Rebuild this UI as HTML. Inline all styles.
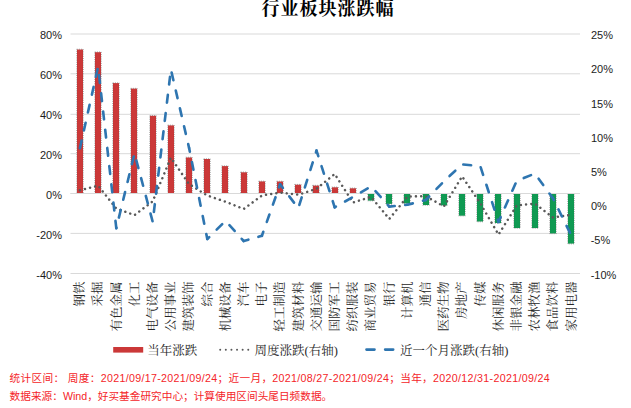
<!DOCTYPE html>
<html lang="zh"><head><meta charset="utf-8"><title>行业板块涨跌幅</title>
<style>
html,body{margin:0;padding:0;background:#fff;font-family:"Liberation Sans",sans-serif;}
svg{display:block;}
</style></head><body>
<svg width="631" height="408" viewBox="0 0 631 408">
<rect width="631" height="408" fill="#fff"/>
<line x1="70.5" y1="34.0" x2="580.0" y2="34.0" stroke="#d9d9d9" stroke-width="1"/>
<line x1="70.5" y1="73.8" x2="580.0" y2="73.8" stroke="#d9d9d9" stroke-width="1"/>
<line x1="70.5" y1="114.3" x2="580.0" y2="114.3" stroke="#d9d9d9" stroke-width="1"/>
<line x1="70.5" y1="153.7" x2="580.0" y2="153.7" stroke="#d9d9d9" stroke-width="1"/>
<line x1="70.5" y1="193.5" x2="580.0" y2="193.5" stroke="#d9d9d9" stroke-width="1"/>
<line x1="70.5" y1="233.4" x2="580.0" y2="233.4" stroke="#d9d9d9" stroke-width="1"/>
<line x1="70.5" y1="273.5" x2="580.0" y2="273.5" stroke="#d9d9d9" stroke-width="1"/>
<rect x="77.00" y="49.50" width="6.00" height="144.00" fill="#cb3838"/><rect x="95.00" y="52.20" width="6.00" height="141.30" fill="#cb3838"/><rect x="113.00" y="83.10" width="6.00" height="110.40" fill="#cb3838"/><rect x="131.00" y="88.60" width="6.00" height="104.90" fill="#cb3838"/><rect x="150.00" y="115.80" width="6.00" height="77.70" fill="#cb3838"/><rect x="168.00" y="125.40" width="6.00" height="68.10" fill="#cb3838"/><rect x="186.00" y="157.50" width="6.00" height="36.00" fill="#cb3838"/><rect x="204.00" y="159.00" width="6.00" height="34.50" fill="#cb3838"/><rect x="222.00" y="166.10" width="6.00" height="27.40" fill="#cb3838"/><rect x="241.00" y="172.30" width="6.00" height="21.20" fill="#cb3838"/><rect x="259.00" y="181.40" width="6.00" height="12.10" fill="#cb3838"/><rect x="277.00" y="181.50" width="6.00" height="12.00" fill="#cb3838"/><rect x="295.00" y="184.70" width="6.00" height="8.80" fill="#cb3838"/><rect x="313.00" y="185.60" width="6.00" height="7.90" fill="#cb3838"/><rect x="332.00" y="187.30" width="6.00" height="6.20" fill="#cb3838"/><rect x="350.00" y="188.30" width="6.00" height="5.20" fill="#cb3838"/><rect x="368.00" y="193.50" width="6.00" height="7.10" fill="#0f9a52"/><rect x="386.00" y="193.50" width="6.00" height="10.40" fill="#0f9a52"/><rect x="404.00" y="193.50" width="6.00" height="9.90" fill="#0f9a52"/><rect x="423.00" y="193.50" width="6.00" height="11.50" fill="#0f9a52"/><rect x="441.00" y="193.50" width="6.00" height="11.90" fill="#0f9a52"/><rect x="459.00" y="193.50" width="6.00" height="22.20" fill="#0f9a52"/><rect x="477.00" y="193.50" width="6.00" height="28.00" fill="#0f9a52"/><rect x="495.00" y="193.50" width="6.00" height="29.50" fill="#0f9a52"/><rect x="514.00" y="193.50" width="6.00" height="34.50" fill="#0f9a52"/><rect x="532.00" y="193.50" width="6.00" height="34.50" fill="#0f9a52"/><rect x="550.00" y="193.50" width="6.00" height="39.90" fill="#0f9a52"/><rect x="568.00" y="193.50" width="6.00" height="50.10" fill="#0f9a52"/>
<g fill="none" stroke="#4a4a4a" stroke-opacity="0.7" stroke-width="0.7" stroke-dasharray="1 1.2"><rect x="76.70" y="49.20" width="6.60" height="144.30"/><rect x="94.70" y="51.90" width="6.60" height="141.60"/><rect x="112.70" y="82.80" width="6.60" height="110.70"/><rect x="130.70" y="88.30" width="6.60" height="105.20"/><rect x="149.70" y="115.50" width="6.60" height="78.00"/><rect x="167.70" y="125.10" width="6.60" height="68.40"/><rect x="185.70" y="157.20" width="6.60" height="36.30"/><rect x="203.70" y="158.70" width="6.60" height="34.80"/><rect x="221.70" y="165.80" width="6.60" height="27.70"/><rect x="240.70" y="172.00" width="6.60" height="21.50"/><rect x="258.70" y="181.10" width="6.60" height="12.40"/><rect x="276.70" y="181.20" width="6.60" height="12.30"/><rect x="294.70" y="184.40" width="6.60" height="9.10"/><rect x="312.70" y="185.30" width="6.60" height="8.20"/><rect x="331.70" y="187.00" width="6.60" height="6.50"/><rect x="349.70" y="188.00" width="6.60" height="5.50"/><rect x="367.70" y="193.50" width="6.60" height="7.40"/><rect x="385.70" y="193.50" width="6.60" height="10.70"/><rect x="403.70" y="193.50" width="6.60" height="10.20"/><rect x="422.70" y="193.50" width="6.60" height="11.80"/><rect x="440.70" y="193.50" width="6.60" height="12.20"/><rect x="458.70" y="193.50" width="6.60" height="22.50"/><rect x="476.70" y="193.50" width="6.60" height="28.30"/><rect x="494.70" y="193.50" width="6.60" height="29.80"/><rect x="513.70" y="193.50" width="6.60" height="34.80"/><rect x="531.70" y="193.50" width="6.60" height="34.80"/><rect x="549.70" y="193.50" width="6.60" height="40.20"/><rect x="567.70" y="193.50" width="6.60" height="50.40"/></g>
<line x1="70.5" y1="193.5" x2="580.0" y2="193.5" stroke="#d9d9d9" stroke-width="1"/>
<polyline points="79.9,190.3 98.1,185.6 116.3,208.5 134.5,215.1 152.7,201.4 170.9,157.7 189.1,184.2 207.3,195.5 225.5,201.7 243.7,209.0 261.9,195.5 280.1,192.6 298.3,194.7 316.5,188.8 334.7,174.0 352.9,202.5 371.1,196.9 389.3,218.9 407.5,196.5 425.7,196.2 443.9,206.4 462.1,176.4 480.3,203.3 498.5,234.6 516.7,205.5 534.9,203.6 553.1,217.6 571.3,214.7" fill="none" stroke="#595959" stroke-width="2.5" stroke-linecap="round" stroke-linejoin="round" stroke-dasharray="0.01 5.23"/>
<g fill="none" stroke="#2e75b0" stroke-width="2.62" stroke-linecap="round" stroke-dasharray="7.85 10.49"><path d="M79.90,148.30L98.10,66.85" stroke-dashoffset="0.00"/><path d="M98.10,66.85L116.30,228.20" stroke-dashoffset="10.10"/><path d="M116.30,228.20L134.50,153.40" stroke-dashoffset="7.41"/><path d="M134.50,153.40L152.70,221.80" stroke-dashoffset="11.03"/><path d="M152.70,221.80L170.90,69.50" stroke-dashoffset="8.45"/><path d="M170.90,69.50L189.10,148.00" stroke-dashoffset="15.12"/><path d="M189.10,148.00L207.30,239.00" stroke-dashoffset="4.00"/><path d="M207.30,239.00L225.50,220.80" stroke-dashoffset="5.10"/><path d="M225.50,220.80L243.70,241.00" stroke-dashoffset="12.50"/><path d="M243.70,241.00L261.90,235.80" stroke-dashoffset="3.01"/><path d="M261.90,235.80L280.10,184.30" stroke-dashoffset="3.60"/><path d="M280.10,184.30L298.30,208.20" stroke-dashoffset="3.20"/><path d="M298.30,208.20L316.50,150.60" stroke-dashoffset="14.90"/><path d="M316.50,150.60L334.70,207.30" stroke-dashoffset="1.95"/><path d="M334.70,207.30L352.90,197.10" stroke-dashoffset="6.48"/><path d="M352.90,197.10L371.10,186.30" stroke-dashoffset="9.00"/><path d="M371.10,186.30L389.30,206.60" stroke-dashoffset="11.82"/><path d="M389.30,206.60L407.50,204.70" stroke-dashoffset="2.41"/><path d="M407.50,204.70L425.70,200.10" stroke-dashoffset="2.37"/><path d="M425.70,200.10L443.90,181.30" stroke-dashoffset="2.80"/><path d="M443.90,181.30L462.10,164.40" stroke-dashoffset="10.63"/><path d="M462.10,164.40L480.30,166.10" stroke-dashoffset="17.12"/><path d="M480.30,166.10L498.50,222.00" stroke-dashoffset="17.06"/><path d="M498.50,222.00L516.70,180.90" stroke-dashoffset="2.49"/><path d="M516.70,180.90L534.90,173.60" stroke-dashoffset="10.76"/><path d="M534.90,173.60L553.10,198.60" stroke-dashoffset="12.03"/><path d="M553.10,198.60L571.30,235.50" stroke-dashoffset="6.27"/></g>
<g font-family="&quot;Liberation Sans&quot;, sans-serif" font-size="11" fill="#1c1c1c" text-anchor="end">
<text x="62" y="39.10">80%</text>
<text x="62" y="79.00">60%</text>
<text x="62" y="118.90">40%</text>
<text x="62" y="158.80">20%</text>
<text x="62" y="198.70">0%</text>
<text x="62" y="238.60">-20%</text>
<text x="62" y="278.50">-40%</text>
</g>
<g font-family="&quot;Liberation Sans&quot;, sans-serif" font-size="11" fill="#1c1c1c" text-anchor="start">
<text x="591" y="39.25">25%</text>
<text x="591" y="73.45">20%</text>
<text x="591" y="107.65">15%</text>
<text x="591" y="141.85">10%</text>
<text x="591" y="176.05">5%</text>
<text x="591" y="210.25">0%</text>
<text x="590.7" y="244.45">-5%</text>
<text x="590.7" y="278.65">-10%</text>
</g>
<g font-family="&quot;Liberation Serif&quot;, &quot;Noto Serif CJK SC&quot;, serif" font-size="12.5" fill="#262626" text-anchor="end">
<text transform="translate(84.10,281.40) rotate(-90)" x="0" y="0">钢铁</text>
<text transform="translate(102.30,281.40) rotate(-90)" x="0" y="0">采掘</text>
<text transform="translate(120.50,281.40) rotate(-90)" x="0" y="0">有色金属</text>
<text transform="translate(138.70,281.40) rotate(-90)" x="0" y="0">化工</text>
<text transform="translate(156.90,281.40) rotate(-90)" x="0" y="0">电气设备</text>
<text transform="translate(175.10,281.40) rotate(-90)" x="0" y="0">公用事业</text>
<text transform="translate(193.30,281.40) rotate(-90)" x="0" y="0">建筑装饰</text>
<text transform="translate(211.50,281.40) rotate(-90)" x="0" y="0">综合</text>
<text transform="translate(229.70,281.40) rotate(-90)" x="0" y="0">机械设备</text>
<text transform="translate(247.90,281.40) rotate(-90)" x="0" y="0">汽车</text>
<text transform="translate(266.10,281.40) rotate(-90)" x="0" y="0">电子</text>
<text transform="translate(284.30,281.40) rotate(-90)" x="0" y="0">轻工制造</text>
<text transform="translate(302.50,281.40) rotate(-90)" x="0" y="0">建筑材料</text>
<text transform="translate(320.70,281.40) rotate(-90)" x="0" y="0">交通运输</text>
<text transform="translate(338.90,281.40) rotate(-90)" x="0" y="0">国防军工</text>
<text transform="translate(357.10,281.40) rotate(-90)" x="0" y="0">纺织服装</text>
<text transform="translate(375.30,281.40) rotate(-90)" x="0" y="0">商业贸易</text>
<text transform="translate(393.50,281.40) rotate(-90)" x="0" y="0">银行</text>
<text transform="translate(411.70,281.40) rotate(-90)" x="0" y="0">计算机</text>
<text transform="translate(429.90,281.40) rotate(-90)" x="0" y="0">通信</text>
<text transform="translate(448.10,281.40) rotate(-90)" x="0" y="0">医药生物</text>
<text transform="translate(466.30,281.40) rotate(-90)" x="0" y="0">房地产</text>
<text transform="translate(484.50,281.40) rotate(-90)" x="0" y="0">传媒</text>
<text transform="translate(502.70,281.40) rotate(-90)" x="0" y="0">休闲服务</text>
<text transform="translate(520.90,281.40) rotate(-90)" x="0" y="0">非银金融</text>
<text transform="translate(539.10,281.40) rotate(-90)" x="0" y="0">农林牧渔</text>
<text transform="translate(557.30,281.40) rotate(-90)" x="0" y="0">食品饮料</text>
<text transform="translate(575.50,281.40) rotate(-90)" x="0" y="0">家用电器</text>
</g>
<text x="327.9" y="15.2" text-anchor="middle" font-family="&quot;Liberation Serif&quot;, &quot;Noto Serif CJK SC&quot;, serif" font-size="18" font-weight="bold" letter-spacing="1" fill="#000">行业板块涨跌幅</text>
<rect x="113.2" y="347" width="30" height="5.6" fill="#cb3838"/>
<text x="147.3" y="354.8" font-family="&quot;Liberation Serif&quot;, &quot;Noto Serif CJK SC&quot;, serif" font-size="12.5" fill="#262626">当年涨跌</text>
<line x1="220.2" y1="349.8" x2="250" y2="349.8" stroke="#595959" stroke-width="2" stroke-linecap="round" stroke-dasharray="0.01 5.6"/>
<text x="254.6" y="354.8" font-family="&quot;Liberation Serif&quot;, &quot;Noto Serif CJK SC&quot;, serif" font-size="12.5" fill="#262626">周度涨跌(右轴)</text>
<line x1="366.5" y1="349.6" x2="395" y2="349.6" stroke="#2e75b0" stroke-width="2.67" stroke-linecap="round" stroke-dasharray="8 10.67"/>
<text x="400" y="354.8" font-family="&quot;Liberation Serif&quot;, &quot;Noto Serif CJK SC&quot;, serif" font-size="12.5" fill="#262626">近一个月涨跌(右轴)</text>
<text x="9.6" y="382.3" font-family="&quot;Liberation Sans&quot;, &quot;Noto Sans CJK SC&quot;, sans-serif" font-size="10.67" fill="#f42428" textLength="540" lengthAdjust="spacing">统计区间： 周度：2021/09/17-2021/09/24；近一月，2021/08/27-2021/09/24；当年，2020/12/31-2021/09/24</text>
<text x="9.6" y="400.2" font-family="&quot;Liberation Sans&quot;, &quot;Noto Sans CJK SC&quot;, sans-serif" font-size="10.67" fill="#f42428">数据来源：Wind，好买基金研究中心；计算使用区间头尾日频数据。</text>
</svg>
</body></html>
